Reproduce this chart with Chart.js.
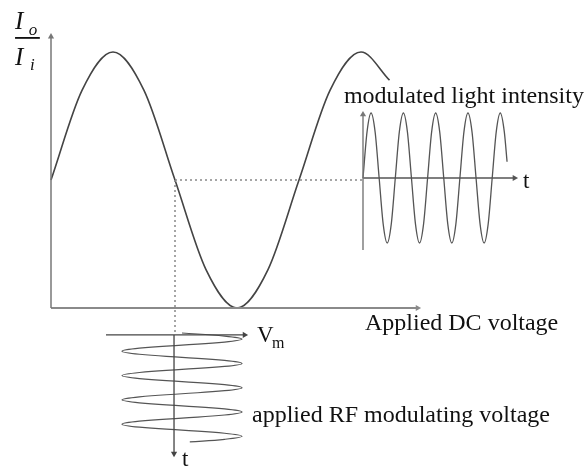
<!DOCTYPE html>
<html>
<head>
<meta charset="utf-8">
<script src="https://cdn.jsdelivr.net/npm/chart.js@4/dist/chart.umd.min.js"></script>
<style>
  html, body { margin: 0; padding: 0; background: #fff; }
  #wrap { width: 588px; height: 467px; }
</style>
</head>
<body>
<div id="wrap"><canvas id="eo-chart" width="588" height="467"></canvas></div>
<script>
// transfer curve: Io/Ii vs applied DC voltage (voltage in units of V_pi)
const dcVolts = [0, 0.25, 0.5, 0.75, 1, 1.25, 1.5, 1.75, 2, 2.25, 2.5, 2.73];
const transmission = [0.5, 0.85, 1, 0.85, 0.5, 0.15, 0, 0.15, 0.5, 0.85, 1, 0.89];
const biasPoint = [1, 0.5];

// modulated light intensity vs t (t in periods)
const lightT = [0, 0.125, 0.25, 0.375, 0.5, 0.625, 0.75, 0.875,
  1, 1.125, 1.25, 1.375, 1.5, 1.625, 1.75, 1.875,
  2, 2.125, 2.25, 2.375, 2.5, 2.625, 2.75, 2.875,
  3, 3.125, 3.25, 3.375, 3.5, 3.625, 3.75, 3.875,
  4, 4.125, 4.25, 4.375, 4.46];
const lightI = [0, 0.71, 1, 0.71, 0, -0.71, -1, -0.71,
  0, 0.71, 1, 0.71, 0, -0.71, -1, -0.71,
  0, 0.71, 1, 0.71, 0, -0.71, -1, -0.71,
  0, 0.71, 1, 0.71, 0, -0.71, -1, -0.71,
  0, 0.71, 1, 0.71, 0.25];

// applied RF voltage Vm vs t (t runs downward)
const rfT = [0, 0.125, 0.25, 0.375, 0.5, 0.625, 0.75, 0.875,
  1, 1.125, 1.25, 1.375, 1.5, 1.625, 1.75, 1.875,
  2, 2.125, 2.25, 2.375, 2.5, 2.625, 2.75, 2.875,
  3, 3.125, 3.25, 3.375, 3.5, 3.625, 3.75, 3.875,
  4, 4.125, 4.25, 4.375, 4.48];
const rfV = [0, 0.71, 1, 0.71, 0, -0.71, -1, -0.71,
  0, 0.71, 1, 0.71, 0, -0.71, -1, -0.71,
  0, 0.71, 1, 0.71, 0, -0.71, -1, -0.71,
  0, 0.71, 1, 0.71, 0, -0.71, -1, -0.71,
  0, 0.71, 1, 0.71, 0.13];

const W = 588, H = 467;

// hidden linear scale placed by its origin pixel and pixels per unit
const placeX = (origin, ppu) => ({
  type: 'linear', axis: 'x', display: false,
  min: -origin / ppu, max: (W - origin) / ppu
});
const placeY = (origin, ppu, down) => down
  ? { type: 'linear', axis: 'y', display: false, reverse: true,
      min: -origin / ppu, max: (H - origin) / ppu }
  : { type: 'linear', axis: 'y', display: false,
      min: (origin - H) / ppu, max: origin / ppu };

const pts = (xs, ys) => xs.map((x, i) => ({ x: x, y: ys[i] }));

// straight line with an optional arrow head on its last point
const seg = (xs, ys, sx, sy, color, width, rot, dash) => ({
  data: pts(xs, ys),
  xAxisID: sx, yAxisID: sy,
  showLine: true,
  borderColor: color,
  backgroundColor: color,
  borderWidth: width,
  borderDash: dash || [],
  pointStyle: 'triangle',
  pointRadius: rot === undefined ? 0 : [0, 3.6],
  pointRotation: rot === undefined ? 0 : [0, rot],
  pointBorderWidth: 0
});

const curve = (xs, ys, sx, sy, color, width, mono) => ({
  data: pts(xs, ys),
  xAxisID: sx, yAxisID: sy,
  showLine: true,
  borderColor: color,
  borderWidth: width,
  pointRadius: 0,
  cubicInterpolationMode: mono ? 'monotone' : 'default',
  tension: mono ? 0 : 0.4
});

const labels = [
  { text: 'modulated light intensity', sx: 'xi', sy: 'yi', x: -0.59, y: 1.154, font: '24px "Liberation Serif"' },
  { text: 't', sx: 'xi', sy: 'yi', x: 4.95, y: -0.16, font: '23px "Liberation Serif"' },
  { text: 'Applied DC voltage', sx: 'x', sy: 'y', x: 2.532, y: -0.086, font: '24px "Liberation Serif"' },
  { text: 'V', sx: 'xr', sy: 'yr', x: 1.25, y: 0.37, font: '23px "Liberation Serif"' },
  { text: 'm', sx: 'xr', sy: 'yr', x: 1.5, y: 0.62, font: '16px "Liberation Serif"' },
  { text: 't', sx: 'xr', sy: 'yr', x: 0.0, y: 5.47, font: '23px "Liberation Serif"' },
  { text: 'applied RF modulating voltage', sx: 'xr', sy: 'yr', x: 1.167, y: 3.66, font: '24px "Liberation Serif"' },
  { text: 'I', sx: 'x', sy: 'y', x: -0.29, y: 1.09, font: 'italic 25px "Liberation Serif"' },
  { text: 'o', sx: 'x', sy: 'y', x: -0.18, y: 1.065, font: 'italic 17px "Liberation Serif"' },
  { text: 'I', sx: 'x', sy: 'y', x: -0.29, y: 0.949, font: 'italic 25px "Liberation Serif"' },
  { text: 'i', sx: 'x', sy: 'y', x: -0.17, y: 0.93, font: 'italic 17px "Liberation Serif"' }
];

const textPlugin = {
  id: 'diagramText',
  afterDatasetsDraw(chart) {
    const ctx = chart.ctx;
    ctx.save();
    ctx.fillStyle = '#111';
    ctx.textBaseline = 'alphabetic';
    ctx.textAlign = 'left';
    labels.forEach(l => {
      ctx.font = l.font;
      ctx.fillText(l.text, chart.scales[l.sx].getPixelForValue(l.x),
        chart.scales[l.sy].getPixelForValue(l.y));
    });
    // fraction bar of Io/Ii
    const sx = chart.scales.x, sy = chart.scales.y;
    ctx.strokeStyle = '#111';
    ctx.lineWidth = 1.8;
    ctx.beginPath();
    ctx.moveTo(sx.getPixelForValue(-0.29), sy.getPixelForValue(1.055));
    ctx.lineTo(sx.getPixelForValue(-0.09), sy.getPixelForValue(1.055));
    ctx.stroke();
    ctx.restore();
  }
};

const setupChart = () => {
  const ctx = document.getElementById('eo-chart').getContext('2d');
  new Chart(ctx, {
    type: 'scatter',
    data: {
      datasets: [
        // main axes
        seg([0, 0], [0, 1.06], 'x', 'y', '#777', 1.5, 0),
        seg([0, 2.956], [0, 0], 'x', 'y', '#8a8a8a', 2, 90),
        // bias point guides
        seg([biasPoint[0], 2.516], [biasPoint[1], biasPoint[1]], 'x', 'y', '#888', 1.5, undefined, [2, 3]),
        seg([biasPoint[0], biasPoint[0]], [biasPoint[1], -0.105], 'x', 'y', '#888', 1.5, undefined, [2, 3]),
        curve(dcVolts, transmission, 'x', 'y', '#444', 1.6, true),
        // output intensity
        seg([0, 0], [-1.108, 0.977], 'xi', 'yi', '#777', 1.4, 0),
        seg([0, 4.69], [0, 0], 'xi', 'yi', '#555', 1.6, 90),
        curve(lightT, lightI, 'xi', 'yi', '#555', 1.3, true),
        // RF drive
        seg([-1.267, 1.042], [0.08, 0.08], 'xr', 'yr', '#444', 1.3, 90),
        seg([-0.133, -0.133], [0.08, 4.96], 'xr', 'yr', '#444', 1.3, 180),
        curve(rfV, rfT, 'xr', 'yr', '#555', 1.2, false)
      ]
    },
    options: {
      responsive: false,
      animation: false,
      layout: { padding: 0, autoPadding: false },
      scales: {
        x: placeX(51, 124),
        y: placeY(308, 256, false),
        xi: placeX(363, 32.3),
        yi: placeY(178, 65, false),
        xr: placeX(182, 60),
        yr: placeY(333, 24.3, true)
      },
      plugins: {
        legend: { display: false },
        tooltip: { enabled: false }
      }
    },
    plugins: [textPlugin]
  });
};
document.addEventListener('DOMContentLoaded', () => {
  setupChart();
});
</script>
</body>
</html>
